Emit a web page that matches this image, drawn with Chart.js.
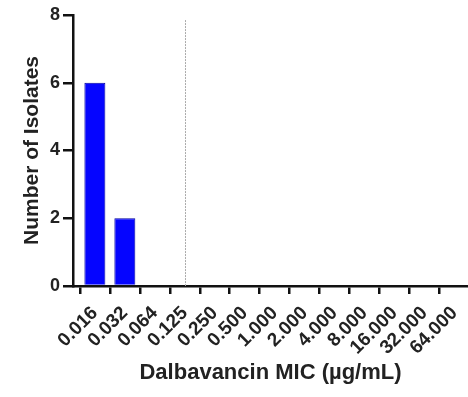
<!DOCTYPE html>
<html lang="en">
<head>
  <meta charset="UTF-8" />
  <title>Dalbavancin MIC distribution</title>
  <script src="https://cdn.jsdelivr.net/npm/chart.js"></script>
  <style>
    html, body { margin: 0; padding: 0; background: #fff; }
    #wrap { width: 468px; height: 397px; }
  </style>
</head>
<body>
  <div id="wrap"><canvas id="micChart"></canvas></div>

  <script>
    // MIC categories (µg/mL) and number of isolates in each
    const micLabels = ["0.016", "0.032", "0.064", "0.125", "0.250", "0.500", "1.000",
                       "2.000", "4.000", "8.000", "16.000", "32.000", "64.000"];
    const isolateCounts = [6, 2, 0, 0, 0, 0, 0, 0, 0, 0, 0, 0, 0];
    const yTicks = [0, 2, 4, 6, 8];
    const breakpointIndex = 3;   // dotted line at 0.125
    const breakpointTop = 7.85;

    const font = "'Liberation Sans', Arial, sans-serif";

    const breakpointLine = {
      id: "breakpointLine",
      afterDatasetsDraw(chart) {
        const { ctx, scales: { x, y } } = chart;
        const px = Math.round(x.getPixelForValue(breakpointIndex)) + 0.5;
        ctx.save();
        ctx.strokeStyle = "#aaa";
        ctx.lineWidth = 1;
        ctx.setLineDash([2, 1]);
        ctx.beginPath();
        ctx.moveTo(px, y.getPixelForValue(breakpointTop));
        ctx.lineTo(px, y.getPixelForValue(0));
        ctx.stroke();
        ctx.restore();
      }
    };

    new Chart(document.getElementById("micChart"), {
      type: "bar",
      data: {
        datasets: [{
          data: isolateCounts.map((v, i) => ({ x: i, y: v })),
          backgroundColor: "#0505ff",
          borderColor: "#0000a0",
          borderWidth: 1,
          barPercentage: 0.7,
          categoryPercentage: 1
        }]
      },
      options: {
        responsive: true,
        maintainAspectRatio: false,
        animation: false,
        layout: { padding: { top: 15, right: 0, bottom: 11, left: 20 } },
        plugins: { legend: { display: false }, tooltip: { enabled: false } },
        scales: {
          x: {
            type: "linear",
            offset: false,
            min: -0.73,
            max: 12.45,
            afterBuildTicks: s => { s.ticks = micLabels.map((l, i) => ({ value: i })); },
            afterFit: s => { s.height = 100; s.paddingLeft = 0; s.paddingRight = 0; },
            grid: { drawOnChartArea: false, color: "#111", lineWidth: 2.5, tickLength: 8 },
            border: { color: "#111", width: 2.5 },
            ticks: {
              autoSkip: false,
              maxRotation: 45,
              minRotation: 45,
              padding: 8,
              color: "#222",
              font: { family: font, size: 19, weight: "bold" },
              callback: v => micLabels[v]
            },
            title: {
              display: true,
              text: "Dalbavancin MIC (µg/mL)",
              color: "#222",
              font: { family: font, size: 22, weight: "bold" },
              padding: { top: 4, bottom: 0 }
            }
          },
          y: {
            min: 0,
            max: 8,
            afterBuildTicks: s => { s.ticks = yTicks.map(v => ({ value: v })); },
            afterFit: s => { s.width = 53; },
            grid: { drawOnChartArea: false, color: "#111", lineWidth: 2.5, tickLength: 10 },
            border: { color: "#111", width: 2.5 },
            ticks: {
              padding: 3,
              color: "#222",
              font: { family: font, size: 18, weight: "bold" }
            },
            title: {
              display: true,
              text: "Number of Isolates",
              color: "#222",
              font: { family: font, size: 21, weight: "bold" },
              padding: { top: 0, bottom: 2 }
            }
          }
        }
      },
      plugins: [breakpointLine]
    });
  </script>
</body>
</html>
